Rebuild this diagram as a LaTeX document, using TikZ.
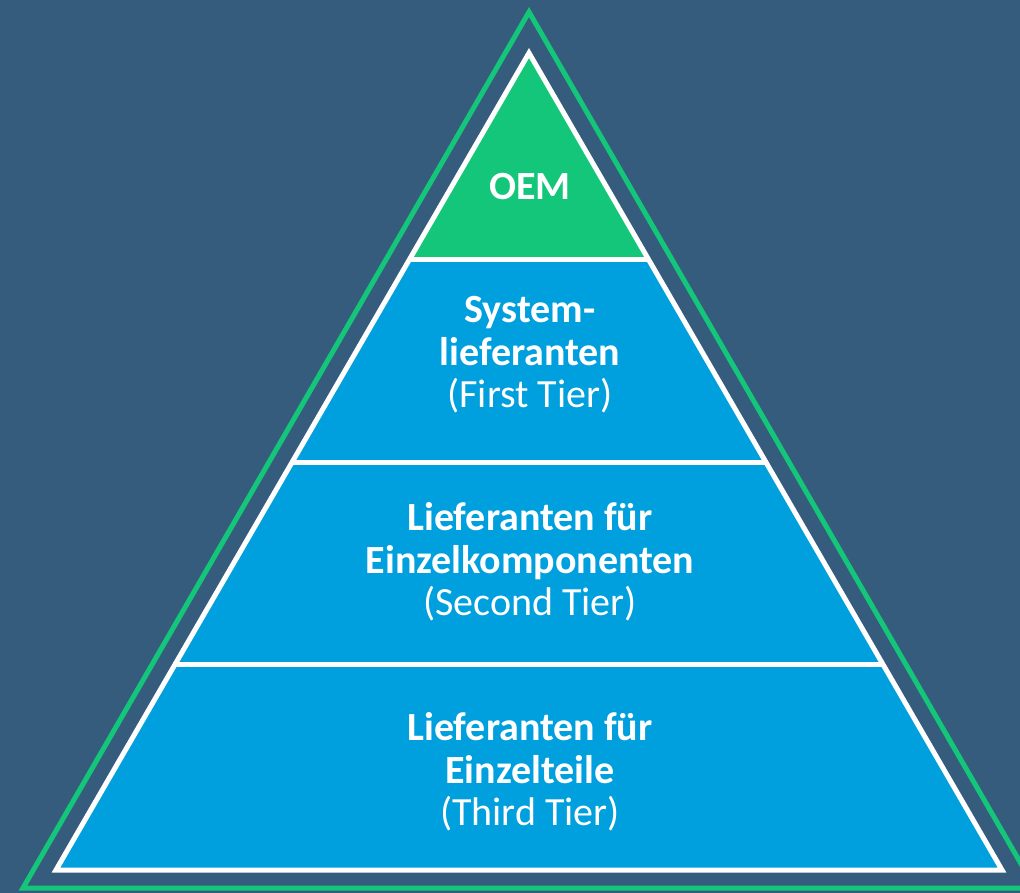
\documentclass[tikz,border=0pt]{standalone}
\usepackage{fontspec}
\setmainfont{Carlito}
\usetikzlibrary{calc}
\definecolor{bgblue}{HTML}{365C7D}
\definecolor{tierblue}{HTML}{009FDD}
\definecolor{oemgreen}{HTML}{13C67A}
\tikzset{
  label/.style={text=white, align=center, font=\fontsize{40}{42.5}\selectfont},
  frame/.style={line width=5pt, line join=miter}
}
\begin{document}
\begin{tikzpicture}[x=1pt,y=-1pt]
      \useasboundingbox (0,0) rectangle (1020,893);
      \clip (0,0) rectangle (1020,893);
      \fill[bgblue] (0,0) rectangle (1020,893);
      % outer green frame
      \draw[frame, oemgreen] (529,12) -- (1035,888) -- (23,888) -- cycle;
      \coordinate (top) at (529,53);
      \coordinate (left) at (56,870);
      \coordinate (right) at (1002,870);
      \begin{scope}
        \clip (top) -- (right) -- (left) -- cycle;
        \fill[tierblue] (0,0) rectangle (1020,893);
        \fill[oemgreen] (0,0) rectangle (1020,260);
        \draw[white, line width=5pt] (0,260) -- (1020,260);
        \draw[white, line width=5pt] (0,462) -- (1020,462);
        \draw[white, line width=5pt] (0,664) -- (1020,664);
      \end{scope}
      \draw[frame, white] (top) -- (right) -- (left) -- cycle;
      \draw
        (530,187) node[label] (oem){\textbf{OEM}}
        (530,355) node[label] (tier1){\textbf{System-}\\\textbf{lieferanten}\\(First Tier)}
        (530,562) node[label] (tier2){\textbf{Lieferanten für}\\\textbf{Einzelkomponenten}\\(Second Tier)}
        (530,772) node[label] (tier3){\textbf{Lieferanten für}\\\textbf{Einzelteile}\\(Third Tier)};
    \end{tikzpicture}
\end{document}
